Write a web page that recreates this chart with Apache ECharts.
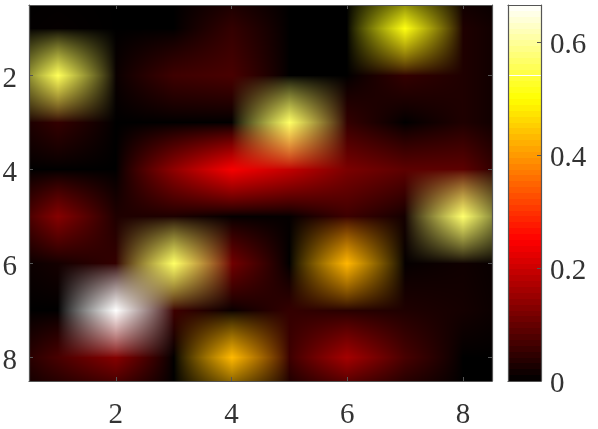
<!DOCTYPE html>
<html><head><meta charset="utf-8">
<style>html,body{margin:0;padding:0;background:#fff}#c{width:598px;height:429px}</style>
<script src="https://cdn.jsdelivr.net/npm/echarts@6/dist/echarts.min.js"></script>
</head><body><div id="c"></div>
<script>
const xTicks = [2, 4, 6, 8];
const yTicks = [2, 4, 6, 8];
const barTicks = [0, 0.2, 0.4, 0.6];
const vMax = 0.6655;
const bandCount = 64;
const row1 = [0.005, 0.00, 0.00, 0.05, 0.00, 0.00, 0.51, 0.03];
const row2 = [0.557, 0.01, 0.06, 0.07, 0.00, 0.00, 0.05, 0.03];
const row3 = [0.05, 0.00, 0.00, 0.00, 0.565, 0.05, 0.00, 0.03];
const row4 = [0.00, 0.00, 0.14, 0.24, 0.19, 0.12, 0.09, 0.09];
const row5 = [0.13, 0.03, 0.03, 0.005, 0.005, 0.06, 0.02, 0.57];
const row6 = [0.02, 0.05, 0.565, 0.11, 0.00, 0.427, 0.005, 0.015];
const row7 = [0.00, 0.665, 0.06, 0.01, 0.05, 0.04, 0.03, 0.02];
const row8 = [0.07, 0.13, 0.00, 0.43, 0.06, 0.16, 0.07, 0.00];
const rows = [row1, row2, row3, row4, row5, row6, row7, row8];

const cl = v => Math.max(0, Math.min(1, v));
function hot(v) {
  const t = v / vMax;
  return [cl(t / 0.375) * 255, cl((t - 0.375) / 0.375) * 255, cl((t - 0.75) / 0.25) * 255];
}
const colorAt = (c, r) => (rows[r] && rows[r][c] !== undefined) ? hot(rows[r][c]) : [0, 0, 0];
const G = 1.2;
const toL = x => Math.pow(x / 255, G);
const fromL = x => 255 * Math.pow(x, 1 / G);

function cellCanvas(cx, cy, w, h) {
  const cv = document.createElement('canvas');
  cv.width = w; cv.height = h;
  const ctx = cv.getContext('2d');
  const img = ctx.createImageData(w, h);
  for (let py = 0; py < h; py++) {
    const fy = cy - 0.5 + (py + 0.5) / h;
    const r0 = Math.floor(fy), ty = fy - r0;
    for (let px = 0; px < w; px++) {
      const fx = cx - 0.5 + (px + 0.5) / w;
      const c0 = Math.floor(fx), tx = fx - c0;
      const a = colorAt(c0, r0), b = colorAt(c0 + 1, r0), c = colorAt(c0, r0 + 1), d = colorAt(c0 + 1, r0 + 1);
      const o = (py * w + px) * 4;
      for (let k = 0; k < 3; k++) {
        img.data[o + k] = fromL((toL(a[k]) * (1 - tx) + toL(b[k]) * tx) * (1 - ty) + (toL(c[k]) * (1 - tx) + toL(d[k]) * tx) * ty);
      }
      img.data[o + 3] = 255;
    }
  }
  ctx.putImageData(img, 0, 0);
  return cv;
}

const cells = [];
rows.forEach((row, r) => row.forEach((v, c) => cells.push([c + 1, r + 1, v])));
const bands = [];
for (let i = 0; i < bandCount; i++) bands.push([0.5, (i + 0.5) * vMax / bandCount, (i + 0.5) * vMax / bandCount]);

const ink = '#555';
const labelInk = '#333';
const font = {fontFamily: 'Liberation Serif', fontSize: 29, color: labelInk};
const lowered = {verticalAlign: 'top', lineHeight: 7};
const lineStyle = {color: ink, width: 1.2};
const tick = {show: true, inside: true, length: 4, lineStyle: {color: ink, width: 1}};

function cellAxis(extra) {
  return Object.assign({type: 'value', min: 0.5, max: 8.5, z: 5, splitLine: {show: false},
    axisLine: {show: true, onZero: false, lineStyle}}, extra);
}
const chart = echarts.init(document.getElementById('c'), null, {renderer: 'canvas'});
chart.setOption({
  animation: false,
  backgroundColor: '#fff',
  grid: [
    {left: 29, top: 5, width: 463, height: 376, outerBoundsMode: 'none'},
    {left: 508, top: 5, width: 33, height: 376, outerBoundsMode: 'none'}
  ],
  xAxis: [
    cellAxis({gridIndex: 0, position: 'bottom',
      axisTick: Object.assign({customValues: xTicks}, tick),
      axisLabel: Object.assign({customValues: xTicks, margin: 20, formatter: v => String(v), hideOverlap: false}, font)}),
    cellAxis({gridIndex: 0, position: 'top',
      axisTick: Object.assign({customValues: xTicks}, tick), axisLabel: {show: false}}),
    {gridIndex: 1, type: 'value', min: 0, max: 1, z: 5, position: 'bottom', splitLine: {show: false},
      axisLine: {show: true, onZero: false, lineStyle}, axisTick: {show: false}, axisLabel: {show: false}},
    {gridIndex: 1, type: 'value', min: 0, max: 1, z: 5, position: 'top', splitLine: {show: false},
      axisLine: {show: true, onZero: false, lineStyle}, axisTick: {show: false}, axisLabel: {show: false}}
  ],
  yAxis: [
    cellAxis({gridIndex: 0, inverse: true, position: 'left',
      axisTick: Object.assign({customValues: yTicks}, tick),
      axisLabel: Object.assign({customValues: yTicks, margin: 12, formatter: v => String(v)}, font, lowered)}),
    cellAxis({gridIndex: 0, inverse: true, position: 'right',
      axisTick: Object.assign({customValues: yTicks}, tick), axisLabel: {show: false}}),
    {gridIndex: 1, type: 'value', min: 0, max: vMax, z: 5, position: 'right', splitLine: {show: false},
      axisLine: {show: true, onZero: false, lineStyle},
      axisTick: Object.assign({customValues: barTicks}, tick),
      axisLabel: Object.assign({customValues: barTicks, margin: 9, formatter: v => String(v)}, font, lowered)},
    {gridIndex: 1, type: 'value', min: 0, max: vMax, z: 5, position: 'left', splitLine: {show: false},
      axisLine: {show: true, onZero: false, lineStyle}, axisTick: {show: false}, axisLabel: {show: false}}
  ],
  series: [
    {type: 'custom', xAxisIndex: 0, yAxisIndex: 0, coordinateSystem: 'cartesian2d', silent: true,
      progressive: 0, encode: {x: 0, y: 1}, clip: true, data: cells, z: 1,
      renderItem(params, api) {
        const cx = api.value(0), cy = api.value(1);
        const p0 = api.coord([cx - 0.5, cy - 0.5]), p1 = api.coord([cx + 0.5, cy + 0.5]);
        const x = Math.round(p0[0]), y = Math.round(p0[1]);
        const w = Math.round(p1[0]) - x, h = Math.round(p1[1]) - y;
        return {type: 'image', style: {image: cellCanvas(cx - 1, cy - 1, w, h), x, y, width: w, height: h}};
      }},
    {type: 'custom', xAxisIndex: 2, yAxisIndex: 2, coordinateSystem: 'cartesian2d', silent: true,
      progressive: 0, encode: {x: 0, y: 1}, data: bands, z: 1,
      renderItem(params, api) {
        const v = api.value(1), half = vMax / bandCount / 2;
        const p0 = api.coord([0, v + half]), p1 = api.coord([1, v - half]);
        const y = Math.round(p0[1]), y1 = Math.round(p1[1]);
        const c = hot(api.value(2));
        return {type: 'rect', shape: {x: p0[0], y, width: p1[0] - p0[0], height: y1 - y},
          style: {fill: `rgb(${c[0] | 0},${c[1] | 0},${c[2] | 0})`}};
      }}
  ]
});
</script></body></html>
